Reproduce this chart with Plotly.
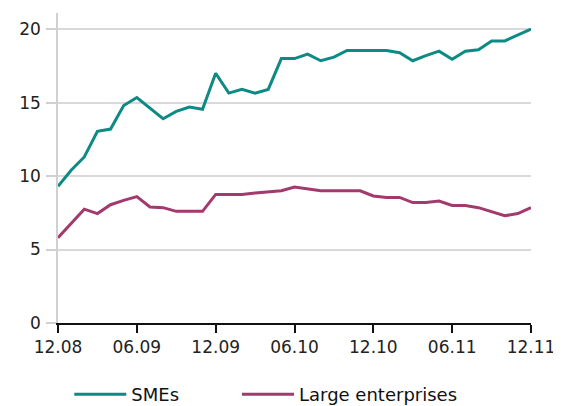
import plotly.graph_objects as go

months = ["12.08", "01.09", "02.09", "03.09", "04.09", "05.09", "06.09", "07.09", "08.09",
          "09.09", "10.09", "11.09", "12.09", "01.10", "02.10", "03.10", "04.10", "05.10",
          "06.10", "07.10", "08.10", "09.10", "10.10", "11.10", "12.10", "01.11", "02.11",
          "03.11", "04.11", "05.11", "06.11", "07.11", "08.11", "09.11", "10.11", "11.11",
          "12.11"]

smes = [9.3, 10.4, 11.3, 13.05, 13.2, 14.8, 15.35, 14.6, 13.9, 14.4, 14.7, 14.55,
        17.0, 15.65, 15.9, 15.65, 15.9, 18.0, 18.0, 18.3, 17.85, 18.1, 18.55, 18.55,
        18.55, 18.55, 18.4, 17.85, 18.2, 18.5, 17.95, 18.5, 18.6, 19.2, 19.2, 19.6, 20.0]

large = [5.8, 6.8, 7.75, 7.45, 8.05, 8.35, 8.6, 7.9, 7.85, 7.6, 7.6, 7.6,
         8.75, 8.75, 8.75, 8.85, 8.9, 9.0, 9.25, 9.1, 9.0, 9.0, 9.0, 9.0,
         8.65, 8.55, 8.55, 8.2, 8.2, 8.3, 8.0, 8.0, 7.85, 7.55, 7.3, 7.45, 7.85]

tick_labels = ["12.08", "06.09", "12.09", "06.10", "12.10", "06.11", "12.11"]
y_ticks = [0, 5, 10, 15, 20]

FONT = "DejaVu Sans"
W, H = 553, 398  # page body has an 8px margin

fig = go.Figure()
fig.add_trace(go.Scatter(x=months, y=smes, mode="lines", name="SMEs",
                         line=dict(color="#0E8A85", width=3), legend="legend"))
fig.add_trace(go.Scatter(x=months, y=large, mode="lines", name="Large enterprises",
                         line=dict(color="#A23A6E", width=3), legend="legend2"))

leg_common = dict(orientation="h", xref="container", yref="container",
                  xanchor="left", yanchor="top", y=1 - 368 / H,
                  itemwidth=52, font=dict(size=18, color="#111"),
                  bgcolor="rgba(0,0,0,0)")

fig.update_layout(
    width=W, height=H,
    margin=dict(l=50, r=30, t=5, b=83, autoexpand=False),
    paper_bgcolor="white", plot_bgcolor="white",
    font=dict(family=FONT, size=17, color="#222"),
    showlegend=True,
    legend=dict(x=61.3 / W, **leg_common),
    legend2=dict(x=229 / W, **leg_common),
)
fig.update_xaxes(
    type="category", range=[0, 36], automargin=False,
    tickmode="array", tickvals=tick_labels, ticktext=tick_labels,
    showgrid=False, showline=True, linecolor="#111", linewidth=2,
    ticks="outside", ticklen=8, tickwidth=2, tickcolor="#111",
    zeroline=False, tickfont=dict(size=17),
)
fig.update_yaxes(
    range=[0, 21.1], tickmode="array", tickvals=y_ticks, automargin=False,
    showgrid=True, gridcolor="#d9d9d9", gridwidth=1.5,
    showline=True, linecolor="#d0d0d0", linewidth=1.5,
    ticks="outside", ticklen=10, tickwidth=1.5, tickcolor="#d0d0d0",
    zeroline=False, tickfont=dict(size=17), ticklabelstandoff=2,
)

fig.write_html("out.html")
